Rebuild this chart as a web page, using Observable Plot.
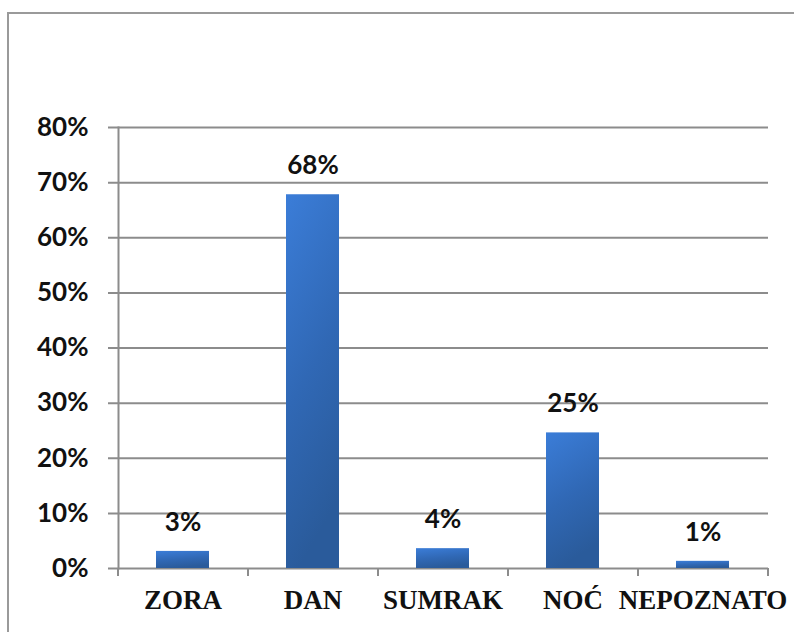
<!DOCTYPE html>
<html>
<head>
<meta charset="utf-8">
<script src="https://cdn.jsdelivr.net/npm/d3@7"></script>
<script src="https://cdn.jsdelivr.net/npm/@observablehq/plot@0.6"></script>
<style>
  html, body { margin: 0; padding: 0; background: #fff; }
  #wrap { position: relative; width: 794px; height: 632px; overflow: hidden; }
  #border { position: absolute; left: 7px; top: 12px; width: 820px; height: 700px;
            border-left: 2px solid #9a9a9a; border-top: 2px solid #9a9a9a; box-sizing: border-box; }
  #chart { position: absolute; left: 0; top: 0; }
  .warm { position: absolute; left: 30px; top: 30px; font-weight: bold; font-size: 20px; color: #fff; }
  .warm.serif { font-family: "Liberation Serif", serif; }
  .warm.sans { font-family: "Lato", sans-serif; top: 60px; }
</style>
</head>
<body>
<div id="wrap">
  <div id="border"></div>
  <span class="warm serif">&nbsp;</span>
  <span class="warm sans">&nbsp;</span>
  <div id="chart"></div>
</div>
<script>
const categories = ["ZORA", "DAN", "SUMRAK", "NOĆ", "NEPOZNATO"];
const values = [3.1, 67.8, 3.6, 24.6, 1.3];
const yTicks = [0, 10, 20, 30, 40, 50, 60, 70, 80];

const data = categories.map((c, i) => ({ cat: c, v: values[i], label: Math.round(values[i]) + "%" }));

const gridColor = "#8c8c8c";

function gradientDefs() {
  const ns = "http://www.w3.org/2000/svg";
  const defs = document.createElementNS(ns, "defs");
  const g = document.createElementNS(ns, "linearGradient");
  g.setAttribute("id", "barGrad");
  g.setAttribute("x1", "0"); g.setAttribute("y1", "0");
  g.setAttribute("x2", "0.25"); g.setAttribute("y2", "1");
  [["0%", "#3b7dd8"], ["55%", "#3068b5"], ["100%", "#2a5b9b"]].forEach(([o, c]) => {
    const s = document.createElementNS(ns, "stop");
    s.setAttribute("offset", o); s.setAttribute("stop-color", c);
    g.appendChild(s);
  });
  defs.appendChild(g);
  return defs;
}

function draw() {
  const chart = Plot.plot({
    width: 794,
    height: 632,
    marginLeft: 118,
    marginRight: 26,
    marginTop: 127,
    marginBottom: 64,
    x: { domain: categories, paddingInner: 0.59, paddingOuter: 0.295, label: null },
    y: { domain: [0, 80], label: null },
    marks: [
      gradientDefs,
      Plot.ruleY(yTicks, { y: d => d, stroke: gridColor, strokeWidth: 2, insetLeft: -10 }),
      Plot.frame({ anchor: "left", stroke: gridColor, strokeWidth: 2 }),
      Plot.ruleX(categories, { x: d => d, y1: 0, y2: 0, dx: -65, insetBottom: -8, stroke: gridColor, strokeWidth: 2 }),
      Plot.ruleX(categories.slice(-1), { x: d => d, y1: 0, y2: 0, dx: 65, insetBottom: -8, stroke: gridColor, strokeWidth: 2 }),
      Plot.barY(data, { x: "cat", y: "v", fill: "url(#barGrad)" }),
      Plot.text(data, { x: "cat", y: "v", text: "label", dy: -29, lineAnchor: "middle",
        fontSize: 26, fontWeight: "bold", fill: "#111", fontFamily: "Lato" }),
      Plot.axisY({ ticks: yTicks, tickFormat: d => d + "%", tickSize: 0, tickPadding: 30,
        fontSize: 26, fontWeight: "bold", fill: "#111", fontFamily: "Lato", label: null }),
      Plot.axisX({ tickSize: 0, tickPadding: 21, fontSize: 27, fontWeight: "bold", fill: "#111",
        fontFamily: "Liberation Serif", label: null })
    ]
  });
  chart.style.background = "transparent";
  chart.style.overflow = "visible";
  const host = document.getElementById("chart");
  host.innerHTML = "";
  host.appendChild(chart);
}

draw();
</script>
</body>
</html>
